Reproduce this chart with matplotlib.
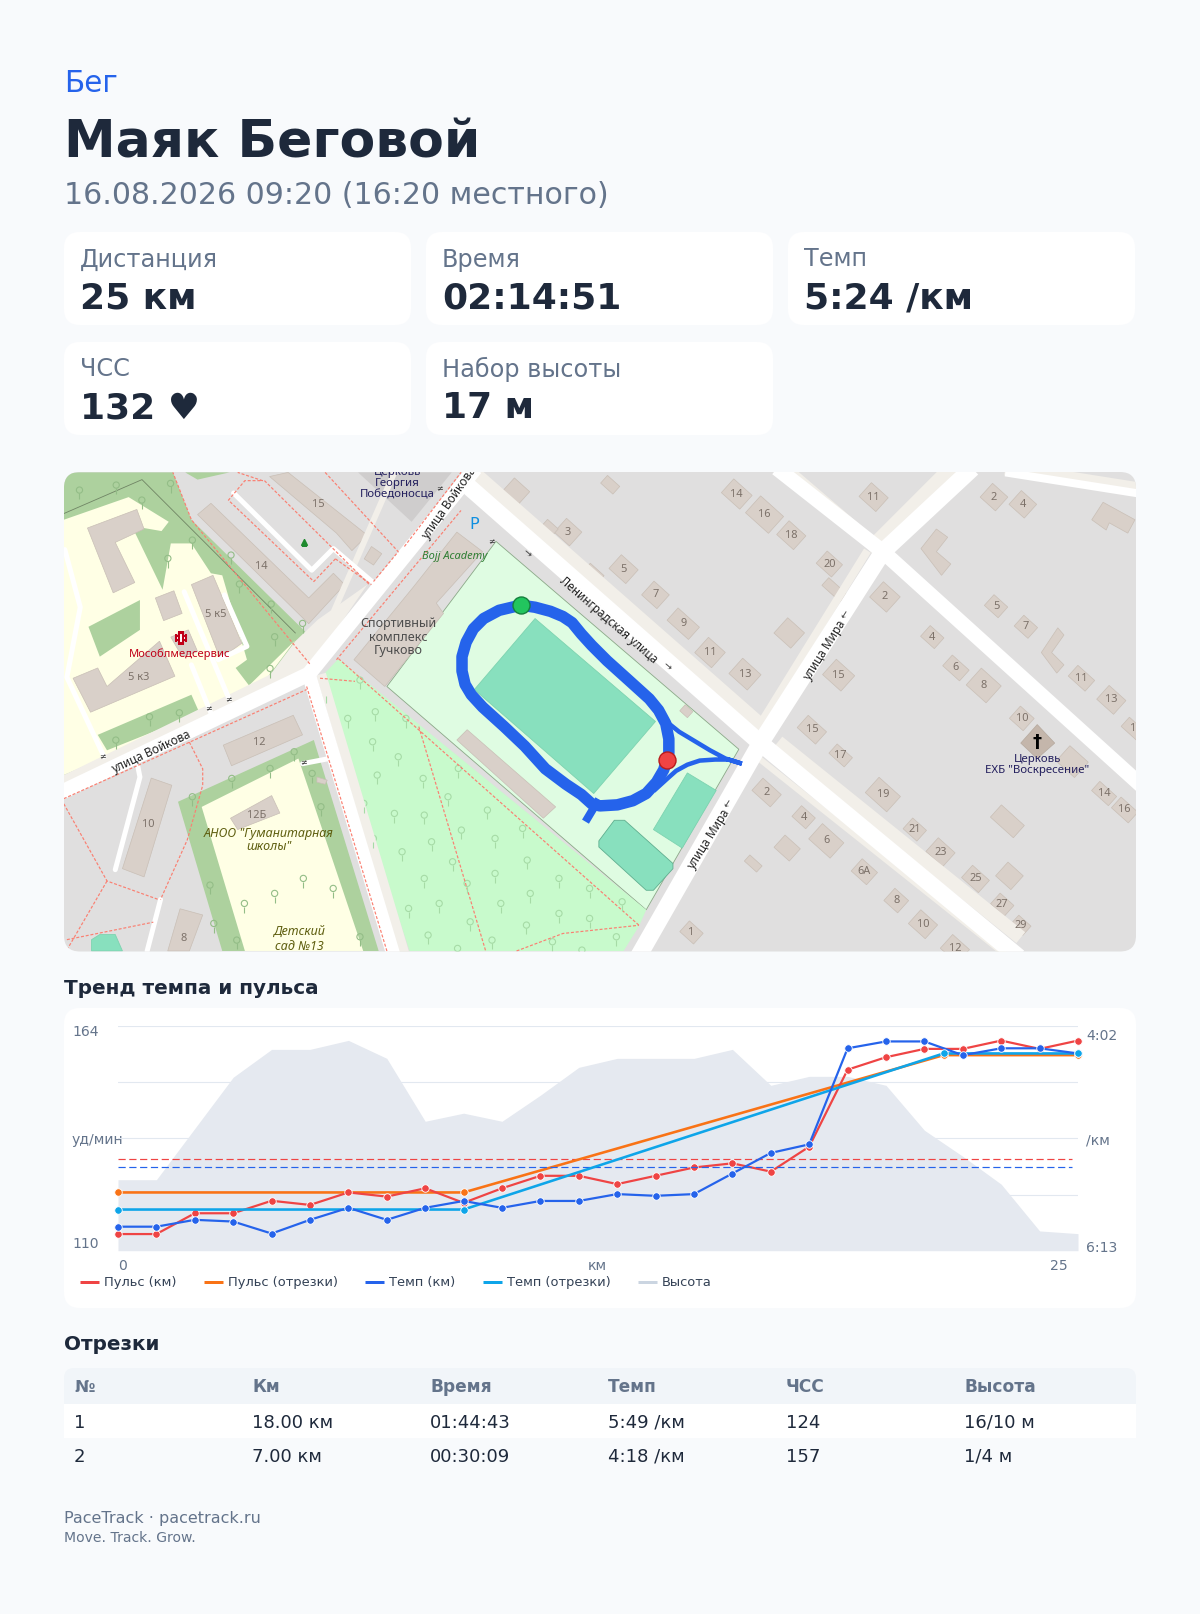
import matplotlib
matplotlib.use("Agg")
import matplotlib.pyplot as plt
from matplotlib.patches import FancyBboxPatch, Polygon
import numpy as np

# ---- activity data
km = list(range(26))
pulse_km = [114, 114, 119, 119, 122, 121, 124, 123, 125, 121.5, 125, 128, 128, 126, 128, 130, 131, 129, 135, 153.5, 156.5, 158.5, 158.5, 160.5, 158.5, 160.5]
pace_km = [359, 359, 355, 356, 363, 355, 348, 355, 348, 344, 348, 344, 344, 340, 341, 340, 328, 316, 311, 255, 251, 251, 259, 255, 255, 258]
elevation = [7.9, 7.9, 13.6, 19.3, 22.4, 22.4, 23.4, 21.4, 14.4, 15.3, 14.4, 17.3, 20.4, 21.4, 21.4, 21.4, 22.4, 18.4, 19.4, 19.4, 18.4, 13.4, 10.5, 7.4, 2.2, 1.9]
seg_x = [0, 9, 21.5, 25]
pulse_seg = [124, 124, 157, 157]
pace_seg = [349, 349, 258, 258]
pulse_avg = 132
pace_avg = 324

legend_names = ["Пульс (км)", "Пульс (отрезки)", "Темп (км)", "Темп (отрезки)", "Высота"]
table_head = ["№", "Км", "Время", "Темп", "ЧСС", "Высота"]
table_rows = [["1", "18.00 км", "01:44:43", "5:49 /км", "124", "16/10 м"],
              ["2", "7.00 км", "00:30:09", "4:18 /км", "157", "1/4 м"]]
card_labels = ["Дистанция", "Время", "Темп", "ЧСС", "Набор высоты"]
card_values = ["25 км", "02:14:51", "5:24 /км", "132 ♥", "17 м"]

# ---- map features (map tile coordinates)
roads = [
    ([(450, 468), (739, 722), (990, 930)], 17),
    ([(945, 455), (858, 536), (739, 722), (620, 930)], 17),
    ([(755, 455), (858, 536), (1110, 764)], 15),
    ([(55, 772), (300, 655), (462, 455)], 15),
    ([(300, 655), (383, 930)], 14),
    ([(977, 459), (1110, 480)], 8),
]
sidewalks = [
    ([(459, 458), (748, 712)], 14),
    ([(756, 721), (992, 911)], 14),
    ([(738, 705), (843, 535)], 8),
    ([(845, 535), (925, 455)], 16),
    ([(768, 458), (852, 530)], 10),
    ([(865, 545), (1110, 770)], 5),
    ([(735, 735), (980, 930)], 6),
    ([(55, 762), (295, 645)], 10),
    ([(300, 650), (385, 455)], 6),
    ([(312, 655), (394, 930)], 10),
    ([(977, 455), (1110, 476)], 14),
]
sidewalk_areas = [[(248, 675), (287, 623), (309, 602), (357, 568), (300, 651)]]
boundaries = [
    [(62, 499), (138, 466), (287, 615)],
]
service_roads = [
    [(227, 479), (303, 554), (324, 533), (365, 568)],
    [(63, 534), (78, 590), (65, 658), (101, 735)],
    [(179, 575), (223, 680)],
    [(186, 646), (205, 693)],
    [(218, 578), (240, 628), (212, 641)],
    [(134, 745), (136, 755), (112, 845)],
    [(156, 874), (143, 924)],
    [(294, 742), (320, 737)],
]
footways = [
    [(62, 776), (298, 670)], [(298, 667), (376, 924)], [(329, 640), (621, 899)],
    [(311, 659), (345, 662)], [(407, 706), (472, 924)], [(502, 924), (547, 907), (621, 899)],
    [(301, 645), (186, 505), (168, 459)], [(393, 531), (448, 459)], [(327, 641), (448, 496)],
    [(316, 459), (387, 536), (363, 565)], [(326, 543), (361, 568)],
    [(326, 543), (305, 565), (222, 486), (238, 467), (255, 467), (231, 459)], [(257, 467), (359, 568)],
    [(184, 721), (197, 747), (197, 763), (182, 816), (156, 874)],
    [(62, 781), (104, 856), (154, 874)], [(104, 856), (65, 923)], [(65, 913), (149, 896)],
]
green_areas = [
    [(62, 459), (168, 459), (186, 505), (300, 617), (248, 676), (62, 753)],
    [(180, 459), (223, 459), (192, 466)],
    [(173, 779), (305, 719), (368, 924), (216, 924)],
]
yellow_areas = [
    [(62, 505), (125, 483), (164, 507), (157, 516), (128, 511), (158, 573), (166, 528), (186, 528), (205, 557), (216, 559), (240, 641), (229, 649), (242, 666), (287, 622), (248, 674), (223, 679), (97, 738), (62, 753)],
    [(196, 784), (290, 737), (353, 924), (238, 924)],
]
green_patches = [
    [(86, 609), (136, 583), (136, 612), (97, 638)],
    [(95, 714), (186, 675), (194, 693), (104, 729)],
]
stadium = [(482, 526), (718, 728), (628, 884), (376, 667)]
park = [(329, 640), (628, 884), (621, 900), (606, 924), (398, 924), (311, 659)]
pitches = [
    [(520, 601), (637, 701), (577, 771), (461, 670)],
    [(668, 751), (696, 768), (663, 824), (635, 806)],
    [(597, 797), (607, 797), (654, 839), (654, 844), (635, 865), (628, 865), (582, 823), (582, 817)],
    [(89, 913), (97, 908), (112, 908), (119, 924), (89, 924)],
]
buildings = [
    [(85, 513), (133, 495), (140, 514), (112, 527), (131, 566), (110, 576)],
    [(205, 489), (192, 500), (300, 606), (335, 568), (324, 557), (300, 581)],
    [(262, 463), (280, 459), (357, 520), (342, 535), (327, 518)],
    [(361, 531), (371, 538), (363, 549), (354, 543)],
    [(444, 517), (469, 536), (424, 586), (431, 596), (374, 667), (344, 641), (402, 570)],
    [(454, 709), (540, 784), (528, 795), (444, 719)],
    [(217, 724), (285, 695), (294, 714), (225, 744)],
    [(224, 795), (264, 773), (272, 790), (231, 806)],
    [(147, 756), (167, 763), (140, 852), (119, 844)],
    [(175, 883), (197, 889), (184, 924), (163, 924)],
    [(308, 755), (318, 758), (316, 762), (308, 760)],
    [(186, 568), (207, 559), (235, 625), (214, 640)],
    [(151, 581), (169, 574), (177, 596), (159, 603)],
    [(166, 619), (183, 612), (192, 633), (177, 638)],
    [(71, 659), (95, 649), (104, 667), (155, 623), (170, 657), (88, 692)],
    [(895, 533), (910, 514), (921, 522), (910, 536), (924, 548), (915, 559)],
    [(1061, 505), (1072, 488), (1103, 505), (1096, 518), (1078, 508), (1075, 515)],
    [(1012, 634), (1028, 610), (1034, 617), (1022, 634), (1034, 646), (1027, 654)],
]
church_georgy = [(348, 459), (439, 459), (400, 507)]
# cx, cy, half length, half width, label
houses = [
    (716, 480, 12, 9, "14"), (743, 500, 15, 11, "16"), (769, 520, 11, 9, "18"), (806, 548, 10, 8, "20"),
    (849, 483, 11, 9, "11"), (966, 483, 10, 9, "2"), (994, 490, 10, 9, "4"), (606, 553, 11, 9, "5"),
    (552, 517, 10, 9, "3"), (637, 578, 10, 9, "7"), (664, 606, 14, 8, "9"), (690, 634, 11, 10, "11"),
    (724, 655, 12, 10, "13"), (860, 580, 11, 10, "2"), (815, 656, 12, 10, "15"), (906, 619, 9, 7, "4"),
    (929, 649, 11, 7, "6"), (956, 666, 13, 11, "8"), (993, 698, 9, 8, "10"), (968, 589, 9, 7, "5"),
    (997, 609, 9, 7, "7"), (1051, 659, 11, 7, "11"), (1080, 680, 11, 9, "13"), (789, 709, 12, 8, "15"),
    (817, 734, 10, 6, "17"), (858, 772, 14, 10, "19"), (889, 806, 9, 7, "21"), (914, 828, 11, 9, "23"),
    (948, 854, 11, 8, "25"), (974, 879, 9, 7, "27"), (992, 899, 8, 6, "29"), (1073, 771, 11, 6, "14"),
    (1093, 787, 11, 7, "16"), (745, 770, 12, 8, "2"), (781, 794, 9, 7, "4"), (803, 817, 14, 10, "6"),
    (840, 847, 10, 8, "6А"), (871, 875, 9, 8, "8"), (897, 898, 11, 9, "10"), (928, 922, 11, 9, "12"),
    (672, 906, 9, 7, "1"), (767, 615, 11, 10, ""), (811, 573, 12, 5, ""), (979, 798, 15, 8, ""),
    (981, 851, 10, 9, ""), (1042, 740, 12, 10, ""), (765, 824, 10, 8, ""), (732, 839, 8, 4, ""),
    (667, 691, 5, 4, ""), (577, 557, 9, 5, ""), (593, 471, 8, 5, ""), (502, 477, 10, 8, ""),
    (534, 513, 7, 5, ""), (466, 470, 8, 6, ""), (1101, 708, 10, 6, "1"),
]
park_trees_crop = [(778, 775), (850, 755), (930, 775), (843, 845), (910, 890), (855, 945), (975, 955), (1067, 925), (1040, 1010), (900, 1060), (978, 1065), (1143, 1050), (1075, 1110), (1235, 1105), (997, 1145), (920, 1175), (1163, 1135), (1052, 1205), (1247, 1200), (1163, 1240), (978, 1255), (1090, 1270), (1330, 1255), (1410, 1285), (1255, 1300), (1017, 1330), (937, 1345), (1178, 1330), (1495, 1325), (1330, 1360), (1410, 1375), (1245, 1395), (1098, 1385), (988, 1425), (1155, 1440), (1313, 1445), (1480, 1430), (1390, 1470), (1065, 1465), (810, 660), (720, 700), (820, 1030), (845, 1135)]
grass_trees_crop = [(77, 90), (173, 75), (240, 120), (315, 70), (372, 240), (308, 295), (495, 372), (473, 285), (587, 530), (660, 490), (578, 432), (575, 625), (338, 758), (260, 770), (172, 840), (418, 1275), (428, 1390), (638, 875), (575, 925), (475, 955), (372, 1010), (708, 1040), (685, 940), (662, 1255), (587, 1300), (508, 1330), (740, 1285), (810, 1430), (488, 1440)]
route_main = [(506, 588), (520, 590), (535, 594), (547, 599), (556, 605), (565, 616), (575, 627), (590, 642), (610, 660), (631, 679), (640, 690), (647, 703), (650, 718), (650, 732), (648, 738), (645, 748), (638, 760), (628, 771), (615, 778), (600, 782), (583, 783), (575, 781), (565, 772), (550, 762), (530, 747), (510, 725), (490, 706), (469, 687), (458, 675), (452, 665), (449, 652), (449, 638), (453, 624), (460, 611), (470, 601), (485, 593), (506, 588)]
route_spur = [(580, 780), (571, 795)]
route_branch = [(650, 703), (660, 711), (675, 720), (690, 729), (705, 737), (721, 742), (708, 738), (695, 738), (680, 739), (668, 743), (657, 749), (648, 757), (637, 767)]
route_start = (506, 588)
route_finish = (648, 738)

BG = "#f8fafc"
INK = "#1e293b"
GREY = "#64748b"
RED = "#ef4444"
ORANGE = "#f97316"
BLUE = "#2563eb"
SKY = "#0ea5e9"
W, H = 1200, 1614
MAP_FONT = ["Noto Sans", "DejaVu Sans"]


def fs(px):
    return px * 0.72


plt.rcParams["font.family"] = ["DejaVu Sans"]
fig = plt.figure(figsize=(W / 100, H / 100), dpi=100, facecolor=BG)
page = fig.add_axes([0, 0, 1, 1], zorder=0)
page.set_xlim(0, W)
page.set_ylim(H, 0)
page.axis("off")


def round_box(ax, x0, y0, x1, y1, r, color, **kw):
    box = FancyBboxPatch((x0 + r, y0 + r), x1 - x0 - 2 * r, y1 - y0 - 2 * r,
                         boxstyle="round,pad=%g,rounding_size=%g" % (r, r),
                         fc=color, ec="none", **kw)
    ax.add_patch(box)
    return box


# header
page.text(64, 84, "Бег", color=BLUE, fontsize=fs(29.5), va="center")
page.text(64, 144, "Маяк Беговой", color=INK, fontsize=fs(52), fontweight="bold", va="center")
page.text(64, 195.5, "16.08.2026 09:20 (16:20 местного)", color=GREY, fontsize=fs(30), va="center")

# stat cards
card_x = [64, 426, 788, 64, 426]
card_y = [232, 232, 232, 342, 342]
for i in range(5):
    round_box(page, card_x[i], card_y[i], card_x[i] + 347, card_y[i] + 93, 16, "white")
    page.text(card_x[i] + 16, card_y[i] + 27.5, card_labels[i], color=GREY, fontsize=fs(24), va="center")
    page.text(card_x[i] + 16, card_y[i] + 66.5, card_values[i], color=INK, fontsize=fs(36), fontweight="bold", va="center")

# map
mp = fig.add_axes([64 / W, 1 - 951.5 / H, 1072 / W, 479.5 / H], zorder=1)
mp.set_xlim(62.2, 1104)
mp.set_ylim(924.5, 458.6)
mp.axis("off")
clip = round_box(mp, 62.2, 458.6, 1104, 924.5, 15.5, "#e0dfdf")
for poly in green_areas:
    mp.add_patch(Polygon(poly, fc="#add19e", ec="none"))
for poly in yellow_areas:
    mp.add_patch(Polygon(poly, fc="#ffffe5", ec="none"))
for poly in green_patches:
    mp.add_patch(Polygon(poly, fc="#add19e", ec="none"))
mp.add_patch(Polygon(church_georgy, fc="#cfcdcd", ec="none"))
mp.add_patch(Polygon(stadium, fc="#dffce2", ec="#8ba888", lw=0.6))
mp.add_patch(Polygon(park, fc="#c8facc", ec="none"))
for poly in sidewalk_areas:
    mp.add_patch(Polygon(poly, fc="#f2efe9", ec="none"))
for path, w in sidewalks:
    xs, ys = zip(*path)
    mp.plot(xs, ys, color="#f2efe9", lw=fs(w), solid_capstyle="butt")
for path in boundaries:
    xs, ys = zip(*path)
    mp.plot(xs, ys, color="#6f8464", lw=0.6)
for path, w in roads:
    xs, ys = zip(*path)
    mp.plot(xs, ys, color="white", lw=fs(w), solid_capstyle="butt", solid_joinstyle="miter")
for path in service_roads:
    xs, ys = zip(*path)
    mp.plot(xs, ys, color="white", lw=fs(5), solid_capstyle="round")
for path in footways:
    xs, ys = zip(*path)
    mp.plot(xs, ys, color="#fa8072", lw=fs(1.2), ls=(0, (2.5, 1.5)))
for i, poly in enumerate(pitches):
    mp.add_patch(Polygon(poly, fc="#88e0be", ec="#5fae8f" if i == 2 else "#7dd3b0", lw=0.6))
for poly in buildings:
    mp.add_patch(Polygon(poly, fc="#d9d0c9", ec="#c9bfb6", lw=0.5))
for cx, cy, a, b, label in houses:
    t = np.radians(42)
    ux, uy = np.cos(t), np.sin(t)
    vx, vy = -uy, ux
    corners = [(cx + sa * a * ux + sb * b * vx, cy + sa * a * uy + sb * b * vy)
               for sa, sb in [(-1, -1), (1, -1), (1, 1), (-1, 1)]]
    mp.add_patch(Polygon(corners, fc="#d9d0c9", ec="#c9bfb6", lw=0.5))
    if label:
        mp.text(cx, cy, label, color="#7c7169", fontsize=fs(11), family=MAP_FONT, ha="center", va="center")
mp.add_patch(Polygon([(1008, 704), (1025, 722), (1008, 737), (992, 722)], fc="#c4b6ab", ec="#b5a99e", lw=0.5))
for trees, col in [(park_trees_crop, "#a6dba6"), (grass_trees_crop, "#93bd87")]:
    tx = [48.6 + p[0] * 0.3719 for p in trees]
    ty = [447 + p[1] * 0.3239 for p in trees]
    mp.scatter(tx, ty, s=20, facecolors="none", edgecolors=col, linewidths=0.8)
    mp.vlines(tx, np.array(ty) + 3, np.array(ty) + 9, color=col, lw=0.8)

# labels on the map
street_labels = [("улица Войкова", 147, 731, 25), ("улица Войкова", 437, 489, 55),
                 ("Ленинградская улица", 591, 603, -41), ("улица Мира", 801, 632, 58), ("улица Мира", 689, 816, 58)]
for text, x, y, rot in street_labels:
    mp.text(x, y, text, fontsize=fs(11.8), color="#222222", family=MAP_FONT, rotation=rot, rotation_mode="anchor", ha="center", va="center")
for text, x, y, rot in [("→", 512, 538, -41), ("→", 648, 648, -41), ("←", 821, 597, 58), ("←", 708, 781, 58)]:
    mp.text(x, y, text, fontsize=fs(10), color="#444444", rotation=rot, ha="center", va="center")
place_labels = [
    ("Спортивный\nкомплекс\nГучково", 387, 619, "#4d4d4d", "normal", 12.5),
    ("Bojj Academy", 442, 541, "#2e7d32", "italic", 11),
    ("Мособлмедсервис", 175, 636, "#c00018", "normal", 11.2),
    ("Церковь\nГеоргия\nПобедоносца", 386, 470, "#24205e", "normal", 11.5),
    ("АНОО \"Гуманитарная\nшколы\"", 261, 816, "#5e5e0f", "italic", 12.5),
    ("Детский\nсад №13", 291, 913, "#5e5e0f", "italic", 12.5),
    ("Церковь\nЕХБ \"Воскресение\"", 1008, 743, "#24205e", "normal", 11.5),
]
for text, x, y, col, style, size in place_labels:
    mp.text(x, y, text, fontsize=fs(size), color=col, style=style, family=MAP_FONT, ha="center", va="center", linespacing=1.05)
for text, x, y in [("15", 309, 490), ("14", 254, 550), ("5 к5", 210, 597), ("5 к3", 135, 658), ("12", 252, 721), ("12Б", 249, 792), ("10", 144, 801), ("8", 178, 912)]:
    mp.text(x, y, text, fontsize=fs(11), color="#7c7169", family=MAP_FONT, ha="center", va="center")
mp.text(461, 510, "P", fontsize=fs(16), color="#0f8fe0", ha="center", va="center")
mp.text(1008, 721, "†", fontsize=fs(18), color="black", fontweight="bold", ha="center", va="center")
mp.plot([176], [620], marker="P", ms=7, mfc="white", mec="#c00018", mew=1.5)
mp.plot([295], [527], marker="^", ms=5, color="#1f8a2e", ls="none")
for x, y in [(427, 475), (478, 526), (295, 741), (222, 680), (203, 688), (100, 735)]:
    mp.text(x, y, "≠", fontsize=fs(8), color="#333333", ha="center", va="center")

# route
rx, ry = zip(*route_main)
mp.plot(rx, ry, color=BLUE, lw=fs(11.5), solid_joinstyle="round")
rx, ry = zip(*route_spur)
mp.plot(rx, ry, color=BLUE, lw=fs(8))
rx, ry = zip(*route_branch)
mp.plot(rx, ry, color=BLUE, lw=fs(4.5), solid_joinstyle="miter")
mp.plot(*route_start, marker="o", ms=fs(17), mfc="#22c55e", mec="#15803d", mew=1)
mp.plot(*route_finish, marker="o", ms=fs(17), mfc=RED, mec="#b91c1c", mew=1)
for art in mp.get_children():
    if art is not clip and art not in (mp.spines.values()):
        art.set_clip_on(True)
        art.set_clip_path(clip)

# chart
page.text(64, 988.5, "Тренд темпа и пульса", color=INK, fontsize=fs(20), fontweight="bold", va="center")
round_box(page, 64, 1008, 1136, 1308, 16, "white")
rect = [118 / W, 1 - 1250.7 / H, 960 / W, 224.7 / H]
ax_ele = fig.add_axes(rect, zorder=2)
ax_ele.patch.set_alpha(0)
ax_ele.set_xlim(0, 25)
ax_ele.set_ylim(0, 25)
ax_ele.set_yticks([0, 6.25, 12.5, 18.75, 25])
ax_ele.grid(axis="y", color="#e2e8f0", lw=fs(1.1))
ax_ele.set_axisbelow(True)
ax_ele.fill_between(km, elevation, 0, color="#e5e9f0", lw=0)
ax_pulse = fig.add_axes(rect, zorder=3)
ax_pulse.set_xlim(0, 25)
ax_pulse.set_ylim(110, 164)
ax_pace = fig.add_axes(rect, zorder=4)
ax_pace.set_xlim(0, 25)
ax_pace.set_ylim(373, 242)
for a in (ax_ele, ax_pulse, ax_pace):
    a.patch.set_alpha(0)
    a.tick_params(length=0, labelleft=False, labelbottom=False)
    for s in a.spines.values():
        s.set_visible(False)
    a.set_xticks([])

dash = (0, (6, 3))
ax_pulse.plot([0, 24.85], [pulse_avg, pulse_avg], color=RED, lw=fs(1.2), ls=dash, clip_on=False)
ax_pace.plot([0, 24.85], [pace_avg, pace_avg], color=BLUE, lw=fs(1.2), ls=dash, clip_on=False)
ax_pulse.plot(seg_x, pulse_seg, color=ORANGE, lw=fs(2.6), zorder=2, clip_on=False)
ax_pulse.plot(km, pulse_km, color=RED, lw=fs(2.2), marker="o", ms=fs(7.5), mec="white", mew=0.6, zorder=3, clip_on=False)
ax_pulse.plot(seg_x, pulse_seg, color=ORANGE, ls="none", marker="o", ms=fs(7.5), mec="white", mew=0.6, zorder=4, clip_on=False)
ax_pace.plot(seg_x, pace_seg, color=SKY, lw=fs(2.6), zorder=2, clip_on=False)
ax_pace.plot(km, pace_km, color=BLUE, lw=fs(2.2), marker="o", ms=fs(7.5), mec="white", mew=0.6, zorder=3, clip_on=False)
ax_pace.plot(seg_x, pace_seg, color=SKY, ls="none", marker="o", ms=fs(7.5), mec="white", mew=0.6, zorder=4, clip_on=False)

page.text(72, 1032, "164", color=GREY, fontsize=fs(14), va="center")
page.text(72, 1140, "уд/мин", color=GREY, fontsize=fs(14), va="center")
page.text(72, 1244, "110", color=GREY, fontsize=fs(14), va="center")
page.text(1086, 1036, "4:02", color=GREY, fontsize=fs(14), va="center")
page.text(1086, 1140, "/км", color=GREY, fontsize=fs(14), va="center")
page.text(1086, 1248, "6:13", color=GREY, fontsize=fs(14), va="center")
page.text(118, 1266, "0", color=GREY, fontsize=fs(14), va="center")
page.text(597, 1266, "км", color=GREY, fontsize=fs(14), va="center", ha="center")
page.text(1068, 1266, "25", color=GREY, fontsize=fs(14), va="center", ha="right")

swatch_x = [80, 204, 365, 483, 638]
swatch_col = [RED, ORANGE, BLUE, SKY, "#cbd5e1"]
for name, x, col in zip(legend_names, swatch_x, swatch_col):
    page.plot([x, x + 19], [1282, 1282], color=col, lw=fs(3), solid_capstyle="butt")
    page.text(x + 24, 1282.5, name, color="#334155", fontsize=fs(13), va="center")

# segments table
page.text(64, 1344.5, "Отрезки", color=INK, fontsize=fs(20), fontweight="bold", va="center")
round_box(page, 64, 1368, 1136, 1414, 10, "#f1f5f9")
page.fill_between([64, 1136], 1404, 1438, color="white", lw=0)
col_x = [74, 252, 430, 608, 786, 964]
for x, head in zip(col_x, table_head):
    page.text(x, 1386.5, head, color=GREY, fontsize=fs(17), fontweight="bold", va="center")
for row, y in zip(table_rows, [1422.5, 1456.5]):
    for x, cell in zip(col_x, row):
        page.text(x, y, cell, color=INK, fontsize=fs(18), va="center")

# footer
page.text(64, 1518, "PaceTrack · pacetrack.ru", color=GREY, fontsize=fs(16), va="center")
page.text(64, 1538, "Move. Track. Grow.", color=GREY, fontsize=fs(14), va="center")

page.set_xlim(0, W)
page.set_ylim(H, 0)
fig.savefig("out.png", dpi=100, facecolor=BG)
